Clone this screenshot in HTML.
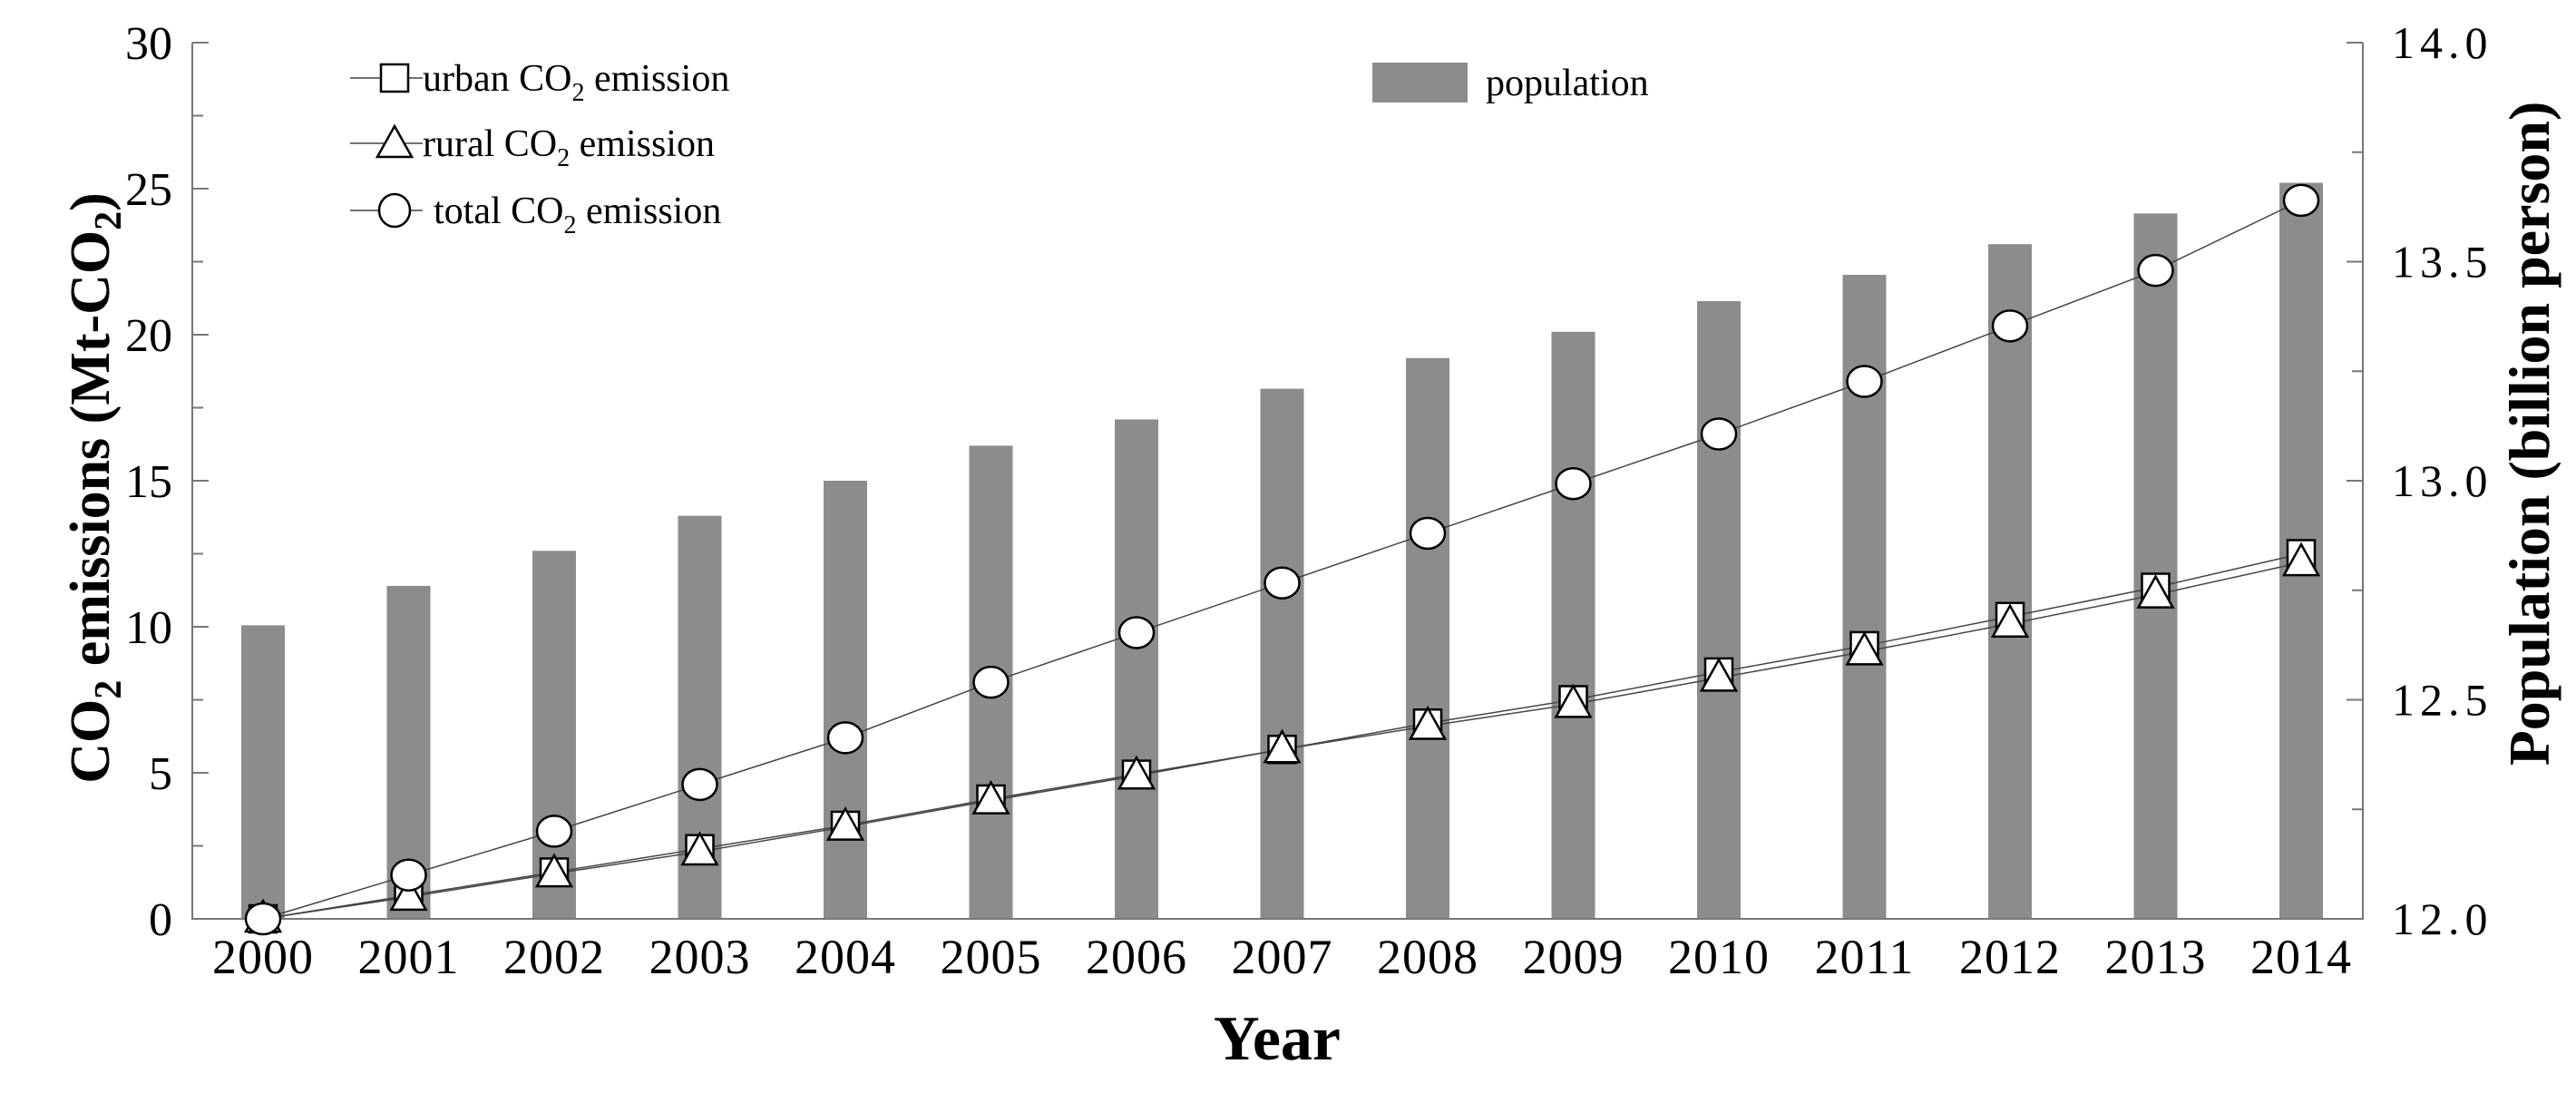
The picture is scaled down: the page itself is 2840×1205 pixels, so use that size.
<!DOCTYPE html>
<html><head><meta charset="utf-8"><style>
html,body{margin:0;padding:0;background:#fff;}
svg{display:block;font-family:"Liberation Serif",serif;}
</style></head><body>
<svg id="chart" width="2840" height="1205" viewBox="0 0 2840 1205"></svg>
<script>
const years=[2000,2001,2002,2003,2004,2005,2006,2007,2008,2009,2010,2011,2012,2013,2014];
const population=[12.67,12.76,12.84,12.92,13.00,13.08,13.14,13.21,13.28,13.34,13.41,13.47,13.54,13.61,13.68];
const totalCO2=[0,1.5,3.0,4.6,6.2,8.1,9.8,11.5,13.2,14.9,16.6,18.4,20.3,22.2,24.6];
const urbanCO2=[0,0.8,1.6,2.4,3.2,4.1,4.95,5.8,6.7,7.5,8.45,9.35,10.35,11.35,12.5];
const ruralCO2=[0,0.75,1.55,2.3,3.15,4.05,4.9,5.8,6.6,7.35,8.25,9.15,10.1,11.1,12.2];
const leftTicks=[0,5,10,15,20,25,30];
const rightTicks=["12.0","12.5","13.0","13.5","14.0"];

const NS="http://www.w3.org/2000/svg";
const svg=document.getElementById('chart');
const L=212,R=2605,T=47,B=1013;
const x=i=>290+i*160.5;
const yL=v=>B-(v/30)*(B-T);
const yR=v=>B-((v-12)/2)*(B-T);
function mk(tag,attrs,parent){const e=document.createElementNS(NS,tag);for(const k in attrs)e.setAttribute(k,attrs[k]);(parent||svg).appendChild(e);return e;}

years.forEach((yr,i)=>{
  const b=mk('rect',{x:x(i)-24,y:yR(population[i]),width:48,height:B-yR(population[i]),fill:'#8c8c8c'});
  
  
});

const ax=mk('path',{d:`M${L},${T}V${B}H${R}V${T}`,fill:'none',stroke:'#777','stroke-width':2});


for(let v=0;v<=30;v+=2.5){mk('line',{x1:L,x2:L+(v%5===0?18:12),y1:yL(v),y2:yL(v),stroke:'#777','stroke-width':2});}
for(let v=12;v<=14.001;v+=0.25){mk('line',{x1:R,x2:R-(Math.abs(v*2-Math.round(v*2))<0.01?18:12),y1:yR(v),y2:yR(v),stroke:'#777','stroke-width':2});}
leftTicks.forEach(v=>{
  const t=mk('text',{x:L-22,y:yL(v)+18,'text-anchor':'end','font-size':52});t.textContent=v;
  
  
});
rightTicks.forEach(v=>{
  const t=mk('text',{x:R+32,y:yR(parseFloat(v))+17,'font-size':50,'letter-spacing':'6'});t.textContent=v;
  
  
});
years.forEach((yr,i)=>{
  const t=mk('text',{x:x(i),y:1073,'text-anchor':'middle','font-size':54,'letter-spacing':'1'});t.textContent=yr;
  
  
});

function series(vals,name){
  const d=vals.map((v,i)=>(i?'L':'M')+x(i)+','+yL(v)).join('');
  const p=mk('path',{d:d,fill:'none',stroke:'#444','stroke-width':1.5});
  
  
}
series(urbanCO2,'urban');series(ruralCO2,'rural');series(totalCO2,'total');
function square(cx,cy){return mk('rect',{x:cx-15,y:cy-15,width:30,height:30,fill:'#fff',stroke:'#000','stroke-width':2.5});}
function tri(cx,cy){return mk('path',{d:`M${cx},${cy-20}L${cx+19},${cy+14}L${cx-19},${cy+14}Z`,fill:'#fff',stroke:'#000','stroke-width':2.5});}
function circ(cx,cy){return mk('ellipse',{cx:cx,cy:cy,rx:19,ry:17,fill:'#fff',stroke:'#000','stroke-width':2.5});}
years.forEach((yr,i)=>{const m=square(x(i),yL(urbanCO2[i]));});
years.forEach((yr,i)=>{const m=tri(x(i),yL(ruralCO2[i]));});
years.forEach((yr,i)=>{const m=circ(x(i),yL(totalCO2[i]));});
</script>
<script>
(function(){
const svg=document.getElementById('chart');
svg.insertAdjacentHTML('beforeend',`
<g font-size="42">
 <g>
  <line x1="386" y1="86" x2="466" y2="86" stroke="#444" stroke-width="1.5"/>
  <rect x="420" y="71" width="30" height="30" fill="#fff" stroke="#000" stroke-width="2.5"/>
  <text x="466" y="100">urban CO<tspan font-size="28" dy="11">2</tspan><tspan dy="-11"> emission</tspan></text>
 </g>
 <g>
  <line x1="386" y1="158" x2="466" y2="158" stroke="#444" stroke-width="1.5"/>
  <path d="M435,139L454,173L416,173Z" fill="#fff" stroke="#000" stroke-width="2.5"/>
  <text x="466" y="172">rural CO<tspan font-size="28" dy="11">2</tspan><tspan dy="-11"> emission</tspan></text>
 </g>
 <g>
  <line x1="386" y1="232" x2="466" y2="232" stroke="#444" stroke-width="1.5"/>
  <ellipse cx="435" cy="232" rx="17" ry="18" fill="#fff" stroke="#000" stroke-width="2.5"/>
  <text x="478" y="246">total CO<tspan font-size="28" dy="11">2</tspan><tspan dy="-11"> emission</tspan></text>
 </g>
 <g>
  <rect x="1513" y="69" width="105" height="44" fill="#8c8c8c"/>
  <text x="1638" y="105">population</text>
 </g>
</g>
<text x="1408" y="1168" text-anchor="middle" font-size="70" font-weight="bold">Year</text>
<text transform="translate(120,538) rotate(-90)" text-anchor="middle" font-size="62" font-weight="bold">CO<tspan font-size="42" dy="13">2</tspan><tspan dy="-13"> emissions (Mt-CO</tspan><tspan font-size="42" dy="13">2</tspan><tspan dy="-13">)</tspan></text>
<text transform="translate(2810,478) rotate(-90)" text-anchor="middle" font-size="64" font-weight="bold">Population (billion person)</text>
`);
})();
</script>
</body></html>
